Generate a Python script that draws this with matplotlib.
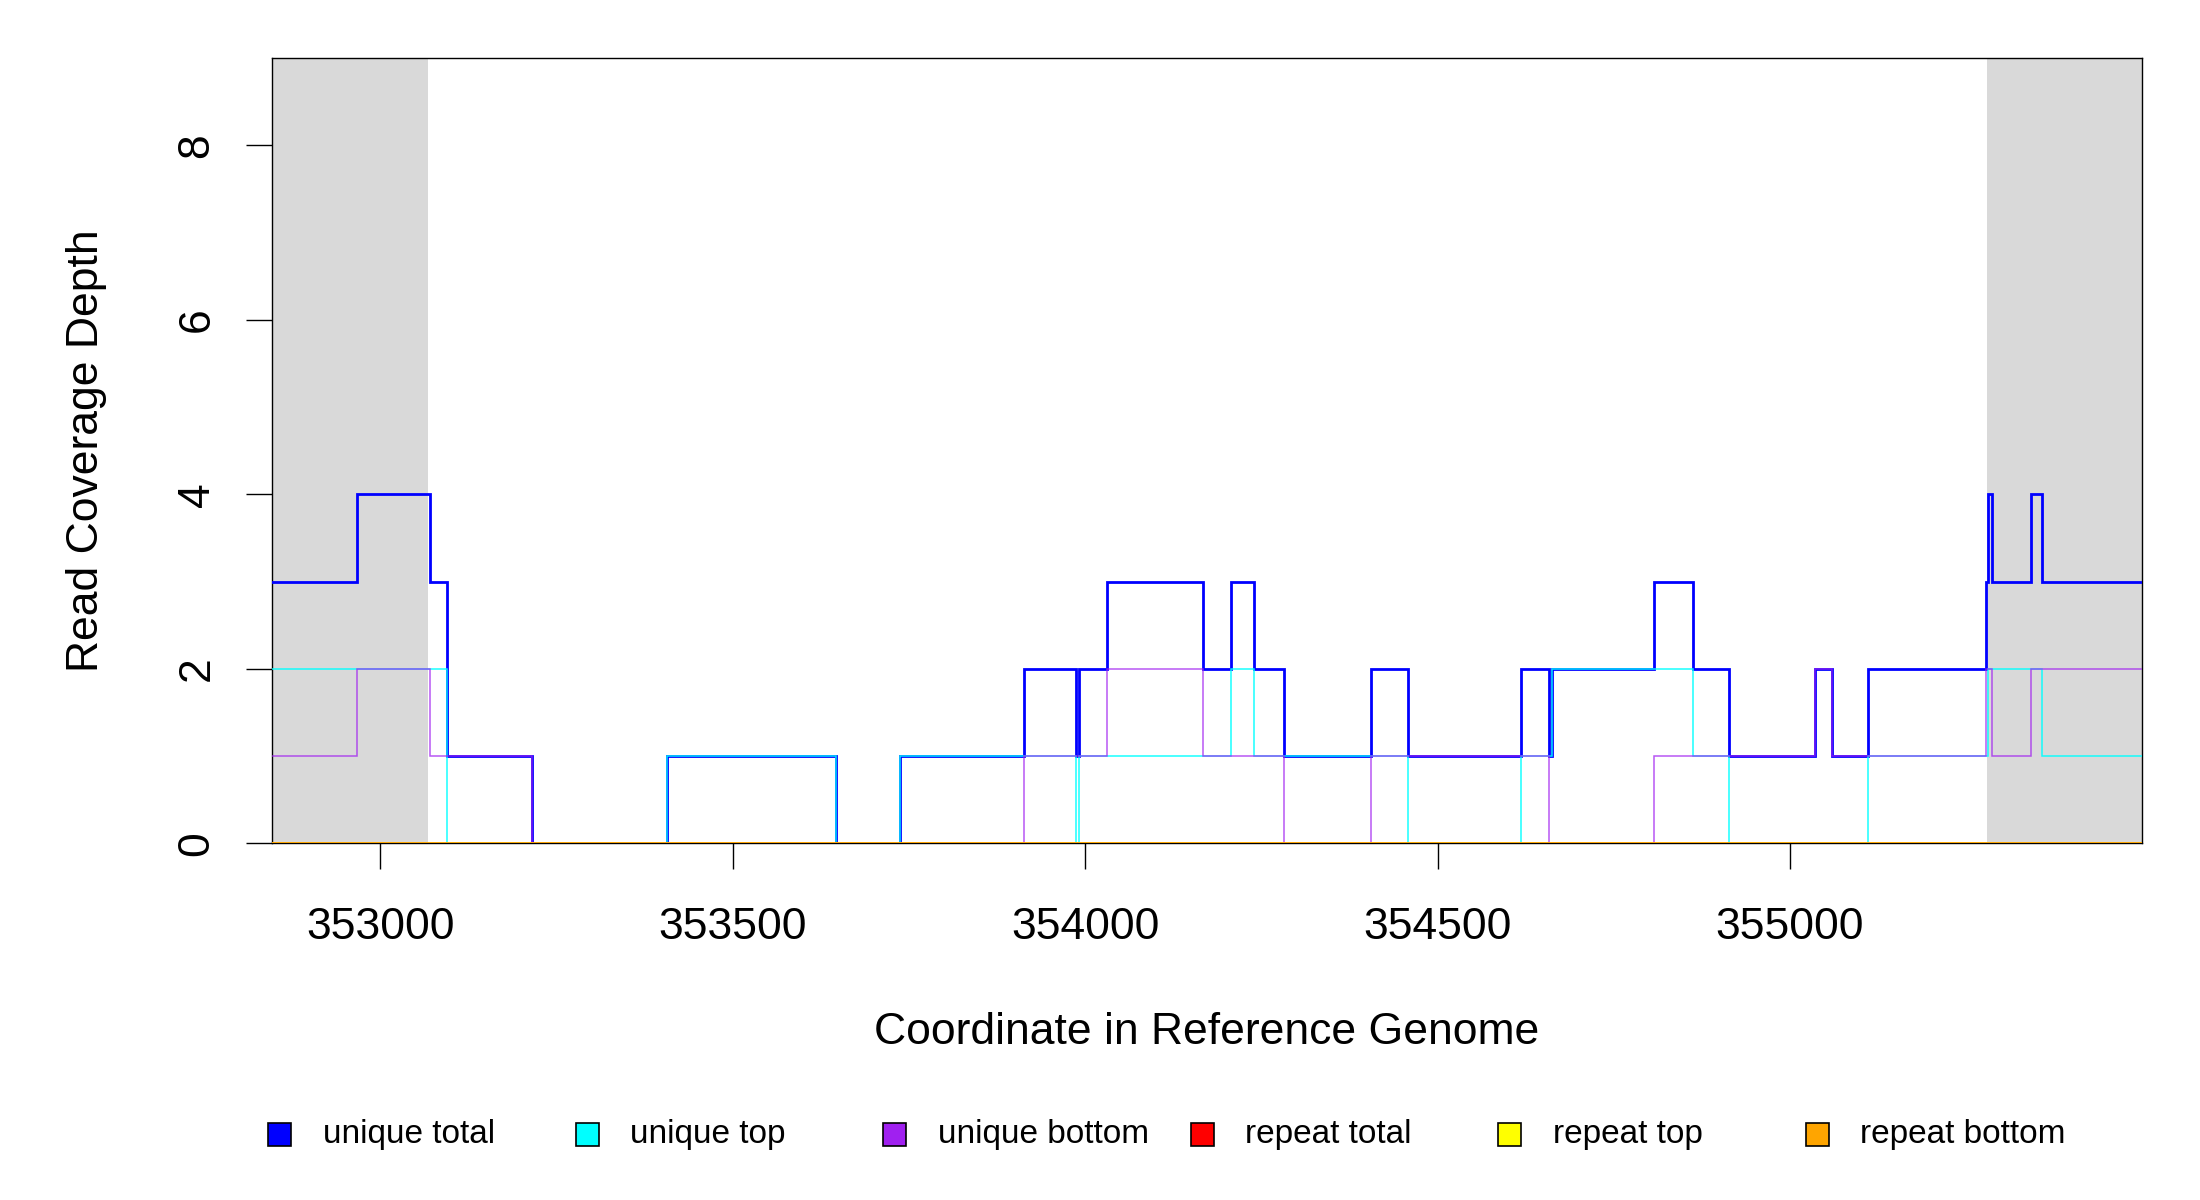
import numpy as np
import matplotlib
matplotlib.use("Agg")
import matplotlib.pyplot as plt
from matplotlib.patches import Rectangle

plt.rcParams['font.family'] = ['Liberation Sans', 'DejaVu Sans']

# segment edges along the reference genome (step functions)
edges = [352800, 352967, 353071, 353095, 353215, 353407, 353646, 353738,
         353914, 353987, 353992, 354031, 354167, 354207, 354239, 354282,
         354406, 354458, 354618, 354658, 354662, 354807, 354862, 354914,
         355035, 355059, 355111, 355278, 355281, 355287, 355342, 355358,
         355550]

unique_total = [3, 4, 3, 1, 0, 1, 0, 1, 2, 1, 2, 3, 2, 3, 2, 1,
                2, 1, 2, 1, 2, 3, 2, 1, 2, 1, 2, 3, 4, 3, 4, 3]
unique_top = [2, 2, 2, 0, 0, 1, 0, 1, 1, 0, 1, 1, 1, 2, 1, 1,
              1, 0, 1, 1, 2, 2, 1, 0, 0, 0, 1, 1, 2, 2, 2, 1]
unique_bottom = [1, 2, 1, 1, 0, 0, 0, 0, 1, 1, 1, 2, 1, 1, 1, 0,
                 1, 1, 1, 0, 0, 1, 1, 1, 2, 1, 1, 2, 2, 1, 2, 2]
repeat_total = [0] * 32
repeat_top = [0] * 32
repeat_bottom = [0] * 32

# flanking regions (grey)
flank_left = (352700, 353068)
flank_right = (355280, 355600)

xlim = (352846, 355499)
ylim = (0, 9)

names = ["unique total", "unique top", "unique bottom",
         "repeat total", "repeat top", "repeat bottom"]
colors = ["#0000FF", "#00FFFF", "#A020F0", "#FF0000", "#FFFF00", "#FFA500"]
series = [unique_total, unique_top, unique_bottom,
          repeat_total, repeat_top, repeat_bottom]
widths = [2.0, 1.1, 1.1, 1.3, 1.3, 1.3]
alphas = [1.0, 0.9, 0.75, 0.6, 0.6, 0.9]

fig = plt.figure(figsize=(22, 12), dpi=100)
ax = fig.add_axes([0.1235, 0.2973, 0.85, 0.6542])

ax.axvspan(*flank_left, color="#D9D9D9", lw=0, zorder=0)
ax.axvspan(*flank_right, color="#D9D9D9", lw=0, zorder=0)

# lines drawn above the frame so the zero lines show over the x axis
for vals, c, w, a in zip(series, colors, widths, alphas):
    ax.stairs(vals, edges, baseline=None, color=c, lw=w, alpha=a, zorder=3)

ax.set_xlim(*xlim)
ax.set_ylim(*ylim)
ax.set_xticks([353000, 353500, 354000, 354500, 355000])
ax.set_yticks([0, 2, 4, 6, 8])
ax.tick_params(axis='both', labelsize=32, length=19, width=1.0)
ax.tick_params(axis='x', pad=27)
ax.tick_params(axis='y', pad=20, labelrotation=90)
for lab in ax.get_yticklabels():
    lab.set_va('center')
for s in ax.spines.values():
    s.set_linewidth(1.0)

ax.set_xlabel("Coordinate in Reference Genome", fontsize=32)
ax.xaxis.label.set_va('center')
ax.xaxis.set_label_coords(0.5, -0.2417)
ax.set_ylabel("Read Coverage Depth", fontsize=32)
ax.yaxis.label.set_va('center')
ax.yaxis.set_label_coords(-0.0988, 0.5)

# legend in one row, evenly spaced like the original
x0, step, ly = 279.6, 307.5, 1200 - 1134
sq = 23
for i, (name, c) in enumerate(zip(names, colors)):
    cx = x0 + i * step
    fig.add_artist(Rectangle(((cx - sq / 2) / 2200, (ly - sq / 2) / 1200),
                             sq / 2200, sq / 1200, facecolor=c,
                             edgecolor="black", lw=1.2,
                             transform=fig.transFigure))
    fig.text((cx + 43) / 2200, ly / 1200, name, fontsize=24,
             ha='left', va='center')

fig.savefig("out.png", dpi=100)
